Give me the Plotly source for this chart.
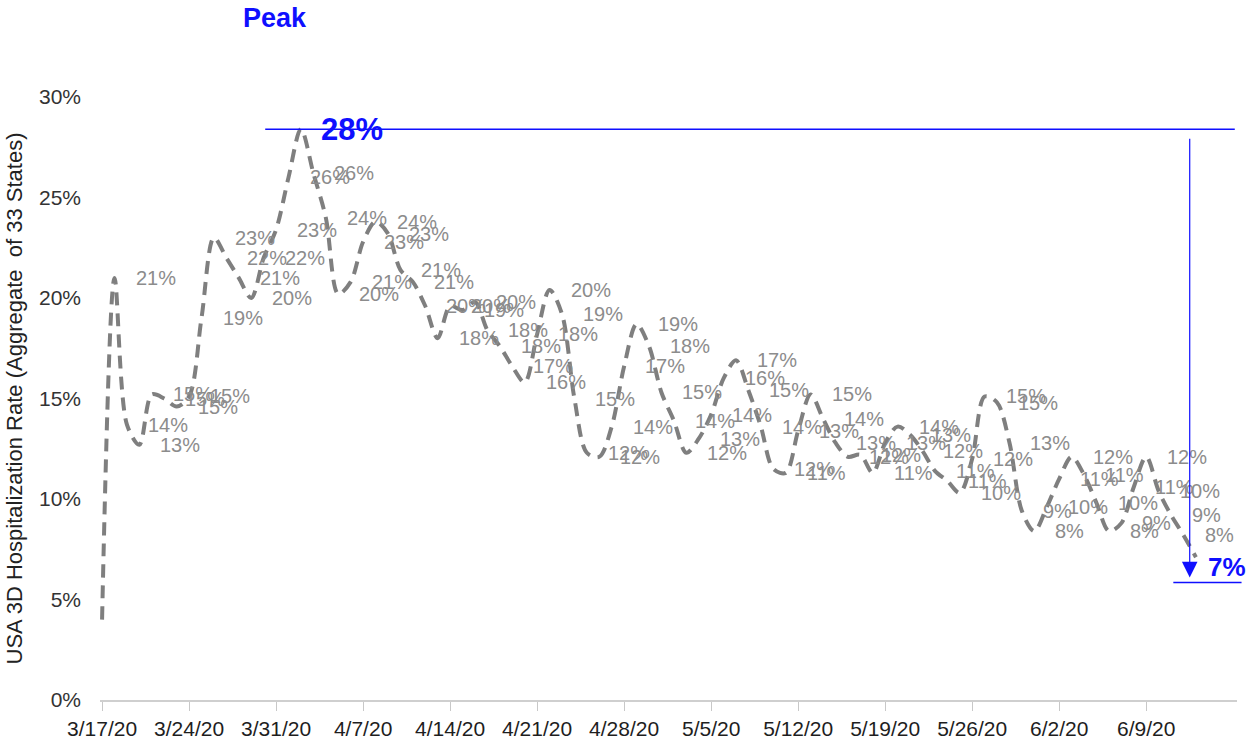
import pandas as pd
import plotly.graph_objects as go

# Daily aggregate hospitalization rate (%) across 33 states, starting 3/17/20
start_date = "2020-03-17"
rate_pct = [
    4.0, 21.0, 13.7, 12.7, 15.2, 15.0, 14.6, 15.1, 19.0, 23.0,
    22.0, 21.0, 20.0, 22.0, 23.4, 26.0, 28.4, 26.2, 24.0,
    20.2, 20.8, 22.8, 23.8, 23.2, 21.4, 20.8, 19.6, 18.0, 19.6,
    19.4, 19.8, 18.4, 17.6, 16.6, 15.8, 18.2, 20.4, 19.2, 15.0,
    12.3, 12.1,
    13.6, 16.6, 18.7, 17.6, 15.3, 13.9, 12.3, 13.0, 14.2, 16.0,
    16.9, 15.4, 13.6, 11.5, 11.3,
    13.4, 15.2, 14.0, 12.8, 12.1, 12.2, 11.3, 12.8, 13.6, 13.2,
    12.4, 11.4, 10.9, 10.3, 12.0, 15.1, 14.8, 12.8, 9.4, 8.4,
    9.6, 11.0, 12.1, 11.2, 9.8, 8.4, 8.8, 10.6, 12.1, 10.4,
    9.2, 8.2, 7.1,
]
dates = pd.date_range(start_date, periods=len(rate_pct), freq="D")

# Weekly axis ticks
tick_dates = pd.date_range("2020-03-17", "2020-06-09", freq="7D")
tick_text = [f"{d.month}/{d.day}/20" for d in tick_dates]

y_ticks = [0, 5, 10, 15, 20, 25, 30]
y_tick_text = [f"{v}%" for v in y_ticks]

NARROW = "Liberation Sans Narrow, Arial Narrow, Liberation Sans, sans-serif"
REGULAR = "Liberation Sans, Arial, sans-serif"
BLUE = "#0f0fff"
GREY = "#7f7f7f"

peak_idx = rate_pct.index(max(rate_pct))
last_idx = len(rate_pct) - 1
peak_val, peak_date = rate_pct[peak_idx], dates[peak_idx]
last_val, last_date = rate_pct[last_idx], dates[last_idx]
arrow_date = last_date - pd.Timedelta(hours=12)

fig = go.Figure()
fig.add_trace(go.Scatter(
    x=dates, y=rate_pct, mode="lines",
    line=dict(color=GREY, width=4, dash="13px,8px", shape="spline", smoothing=0.9),
    hoverinfo="skip", showlegend=False,
))

annotations = []
# grey value labels to the right of each daily point (peak and latest are called out in blue)
for i, (d, v) in enumerate(zip(dates, rate_pct)):
    if i in (0, peak_idx, last_idx):
        continue
    annotations.append(dict(
        x=d, y=v, xref="x", yref="y", text=f"{v:.0f}%", showarrow=False,
        xanchor="left", yanchor="middle", xshift=19,
        font=dict(family=REGULAR, size=20, color="#8c8c8c"),
    ))

# peak call-out
annotations.append(dict(
    x=peak_date, y=peak_val, xref="x", yref="y", text=f"<b>{peak_val:.0f}%</b>",
    showarrow=False, xanchor="left", yanchor="middle", xshift=18,
    font=dict(family=REGULAR, size=31, color=BLUE),
))
annotations.append(dict(
    x=0.154, y=1.131, xref="paper", yref="paper", text="<b>Peak</b>",
    showarrow=False, xanchor="center", yanchor="middle",
    font=dict(family=NARROW, size=27, color=BLUE),
))
# decline arrow from the peak level down to the latest value
annotations.append(dict(
    x=arrow_date, y=last_val - 1.0, xref="x", yref="y",
    ax=arrow_date, ay=peak_val - 0.4, axref="x", ayref="y",
    text="", showarrow=True, arrowhead=2, arrowsize=2.6, arrowwidth=1.2,
    arrowcolor=BLUE, standoff=0,
))
annotations.append(dict(
    x=arrow_date, y=last_val, xref="x", yref="y", text=f"<b>{last_val:.0f}%</b>",
    showarrow=False, xanchor="left", yanchor="middle", xshift=16, yshift=-10,
    font=dict(family=REGULAR, size=26, color=BLUE),
))

shapes = [
    dict(type="line", xref="x", yref="y",
         x0=pd.Timestamp("2020-03-30 03:00"), x1=pd.Timestamp("2020-06-16 03:00"),
         y0=peak_val, y1=peak_val, line=dict(color=BLUE, width=1.5)),
    dict(type="line", xref="paper", yref="y", x0=0.944, x1=1.004,
         y0=last_val - 1.25, y1=last_val - 1.25, line=dict(color=BLUE, width=1.5)),
]

x_start = pd.Timestamp(start_date) - pd.Timedelta(hours=4)
x_end = x_start + pd.Timedelta(days=91.47)

fig.update_layout(
    width=1253, height=742,
    margin=dict(l=100, r=16, t=97, b=42, autoexpand=False),
    paper_bgcolor="white", plot_bgcolor="white",
    showlegend=False,
    annotations=annotations, shapes=shapes,
    xaxis=dict(
        type="date", range=[x_start, x_end],
        tickmode="array", tickvals=tick_dates, ticktext=tick_text,
        ticks="outside", ticklen=9, tickwidth=1, tickcolor="#c8c8c8",
        showline=True, linecolor="#cfcfcf", linewidth=2,
        showgrid=False, zeroline=False,
        tickfont=dict(family=NARROW, size=21, color="#1e1e1e"),
    ),
    yaxis=dict(
        range=[0, 30], tickmode="array", tickvals=y_ticks, ticktext=y_tick_text,
        showgrid=False, zeroline=False, showline=False, ticks="",
        ticklabelstandoff=18,
        tickfont=dict(family=NARROW, size=21, color="#333333"),
        title=dict(text="USA 3D Hospitalization Rate (Aggregate  of 33 States)",
                   font=dict(family=NARROW, size=22, color="#222222"), standoff=10),
    ),
)

fig.write_html("out.html")
